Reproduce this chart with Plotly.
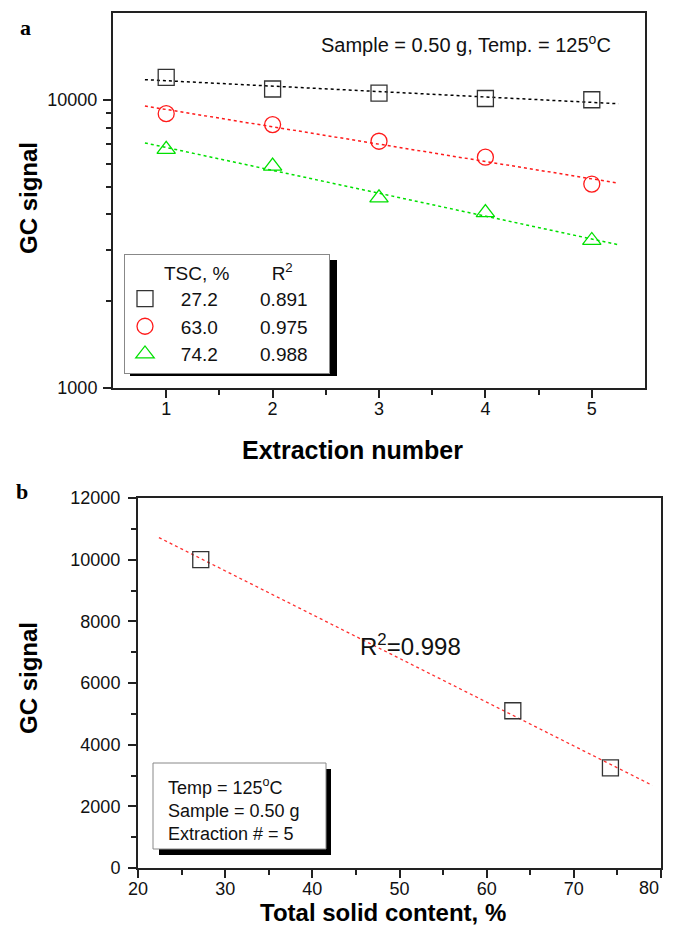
import numpy as np
import plotly.graph_objects as go

# ---------------- data ----------------
extraction = [1, 2, 3, 4, 5]
tsc_labels = ["27.2", "63.0", "74.2"]
r2_labels = ["0.891", "0.975", "0.988"]
signal_272 = [11950, 10900, 10550, 10100, 10000]
signal_630 = [8950, 8200, 7180, 6320, 5100]
signal_742 = [6730, 5890, 4570, 4060, 3250]

tsc_values = [27.2, 63.0, 74.2]
signal_ext5 = [signal_272[-1], signal_630[-1], signal_742[-1]]
r2_b = "0.998"

tsc_ticks = [20, 30, 40, 50, 60, 70, 80]

fit_range_a = [0.8, 5.25]
fit_range_b = [22.4, 79.0]

# page has an 8px body margin: the figure is placed so that
# layout coordinates below are in window pixels
OFF = 8
W, H = 673, 928
FW, FH = W - 2 * OFF, H - OFF
FONT = "Liberation Sans, Arial, sans-serif"
SERIF = "Liberation Serif, Times New Roman, serif"

def px(x):
    return (x - OFF) / FW

def py(y):
    return 1 - (y - OFF) / FH

fig = go.Figure()

series = [
    (signal_272, "#333333", "#000000", "square-open", tsc_labels[0], r2_labels[0]),
    (signal_630, "#ff1a1a", "#ff1a1a", "circle-open", tsc_labels[1], r2_labels[1]),
    (signal_742, "#00e000", "#00e000", "triangle-up-open", tsc_labels[2], r2_labels[2]),
]
NB = "\u00a0"
for ys, col, lcol, sym, tsc, r2 in series:
    b, a = np.polyfit(extraction, np.log10(ys), 1)
    xf = np.array(fit_range_a)
    fig.add_trace(go.Scatter(x=xf, y=10 ** (a + b * xf), mode="lines",
                             line=dict(color=lcol, dash="dot", width=1.5),
                             showlegend=False, xaxis="x", yaxis="y", hoverinfo="skip"))
for ys, col, lcol, sym, tsc, r2 in series:
    fig.add_trace(go.Scatter(x=extraction, y=ys, mode="markers",
                             marker=dict(symbol=sym, size=16, color=col, line=dict(width=1.3, color=col)),
                             name=NB * 3 + tsc + NB * 8 + r2 + NB * 3, xaxis="x", yaxis="y"))

# panel b
bb, ab = np.polyfit(tsc_values, signal_ext5, 1)
xfb = np.array(fit_range_b)
fig.add_trace(go.Scatter(x=xfb, y=ab + bb * xfb, mode="lines",
                         line=dict(color="#ff3030", dash="dot", width=1.3),
                         showlegend=False, xaxis="x2", yaxis="y2", hoverinfo="skip"))
fig.add_trace(go.Scatter(x=tsc_values, y=signal_ext5, mode="markers",
                         marker=dict(symbol="square-open", size=16, color="#333333",
                                     line=dict(width=1.3, color="#333333")),
                         showlegend=False, xaxis="x2", yaxis="y2"))

axis_common = dict(showgrid=False, zeroline=False, showline=True, mirror=True,
                   automargin=False,
                   linecolor="#222222", linewidth=2, ticks="outside", ticklen=8,
                   tickwidth=1.5, tickcolor="#222222",
                   tickfont=dict(family=FONT, size=18, color="#111111"))
minor_common = dict(ticks="outside", ticklen=5, tickwidth=1.5, tickcolor="#222222")
TICKFONT = dict(family=FONT, size=18, color="#111111")

fig.update_layout(
    template="none",
    width=FW, height=FH, autosize=False,
    margin=dict(l=0, r=0, t=0, b=0, pad=0),
    paper_bgcolor="white", plot_bgcolor="white",
    xaxis=dict(domain=[px(113), px(645)], anchor="y", range=[0.5, 5.5],
               tickvals=extraction, ticktext=[str(v) for v in extraction],
               minor=dict(tickvals=[1.5, 2.5, 3.5, 4.5], **minor_common),
               ticklabelstandoff=-5,
               **axis_common),
    yaxis=dict(domain=[py(388), py(13)], anchor="x", type="log",
               range=[3, np.log10(20000)],
               tickvals=[1000, 10000], ticktext=["1000", "10000"],
               minor=dict(tickvals=[2000, 3000, 4000, 5000, 6000, 7000, 8000, 9000], **minor_common),
               ticklabelstandoff=2,
               **axis_common),
    xaxis2=dict(domain=[px(138), px(661)], anchor="y2", range=[20, 80],
                tickvals=tsc_ticks,
                ticktext=[str(v) for v in tsc_ticks[:-1]] + [""],
                minor=dict(dtick=5, **minor_common),
                ticklabelstandoff=-5, ticklabeloverflow="allow",
                **axis_common),
    yaxis2=dict(domain=[py(868), py(498)], anchor="x2", range=[0, 12000], dtick=2000,
                tickformat="d",
                minor=dict(dtick=1000, **minor_common),
                ticklabelstandoff=4,
                **axis_common),
    legend=dict(x=px(124), y=py(254), xanchor="left", yanchor="top",
                bgcolor="white", bordercolor="#888888", borderwidth=1,
                font=dict(family=FONT, size=19, color="#111111"),
                title=dict(text=NB * 7 + "TSC, %" + NB * 8 + "R<sup>2</sup>",
                           font=dict(family=FONT, size=19, color="#111111")),
                tracegroupgap=0, itemclick=False, itemdoubleclick=False),
    showlegend=True,
)

# last x tick label of panel b kept inside the visible window
fig.add_annotation(x=tsc_ticks[-1], xref="x2", y=py(888), yref="paper",
                   xanchor="right", yanchor="middle", showarrow=False,
                   text=str(tsc_ticks[-1]), font=TICKFONT)

# shadow for legend (panel a)
fig.add_shape(type="rect", xref="paper", yref="paper",
              x0=px(130), x1=px(337), y0=py(376), y1=py(260),
              fillcolor="black", line=dict(width=0), layer="above")

# panel b info box with shadow
fig.add_shape(type="rect", xref="paper", yref="paper",
              x0=px(159), x1=px(331), y0=py(855), y1=py(769),
              fillcolor="black", line=dict(width=0), layer="above")
fig.add_shape(type="rect", xref="paper", yref="paper",
              x0=px(153), x1=px(326), y0=py(849), y1=py(763),
              fillcolor="white", line=dict(width=1, color="#888888"), layer="above")

def note(x, y, text, font, **kw):
    params = dict(x=px(x), y=py(y), xref="paper", yref="paper", showarrow=False,
                  xanchor="center", yanchor="middle", text=text, font=font)
    params.update(kw)
    fig.add_annotation(**params)

note(166, 809, "Temp = 125<sup>o</sup>C<br>Sample = 0.50 g<br>Extraction # = 5",
     dict(family=FONT, size=18, color="#111111"), xanchor="left", align="left")

# axis titles
title_font = dict(family=FONT, size=24, color="#000000")
note(352, 450, "<b>Extraction number</b>", dict(family=FONT, size=25, color="#000000"))
note(383, 912, "<b>Total solid content, %</b>", title_font)
note(28, 198, "<b>GC signal</b>", title_font, textangle=-90)
note(28, 678, "<b>GC signal</b>", title_font, textangle=-90)

# texts
note(466, 43, "Sample = 0.50 g, Temp. = 125<sup>o</sup>C", dict(family=FONT, size=20, color="#111111"))
note(410, 645, "R<sup>2</sup>=" + r2_b, dict(family=FONT, size=24, color="#111111"))
note(25, 28, "<b>a</b>", dict(family=SERIF, size=22, color="#000000"))
note(22, 492, "<b>b</b>", dict(family=SERIF, size=22, color="#000000"))

fig.write_html("out.html")
